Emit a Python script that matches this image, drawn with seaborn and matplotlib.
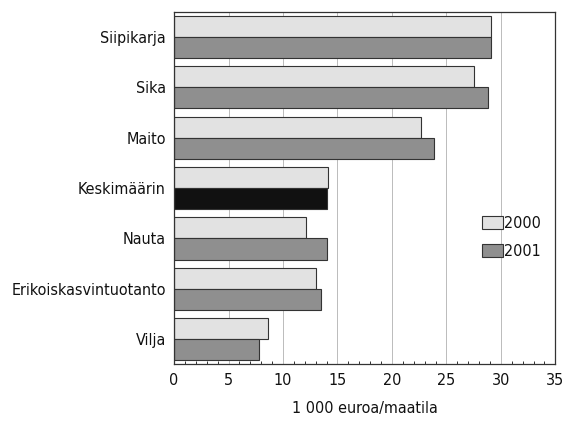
import matplotlib
matplotlib.use("Agg")
import matplotlib.pyplot as plt
import matplotlib.patches as mpatches
from matplotlib.ticker import MultipleLocator
import seaborn as sns
import pandas as pd

categories = ["Siipikarja", "Sika", "Maito", "Keskimäärin", "Nauta",
              "Erikoiskasvintuotanto", "Vilja"]
years = ["2000", "2001"]
values_2000 = [29.1, 27.5, 22.7, 14.1, 12.1, 13.0, 8.6]
values_2001 = [29.1, 28.8, 23.9, 14.0, 14.0, 13.5, 7.8]
xlabel = "1 000 euroa/maatila"

color_2000 = "#e2e2e2"
color_2001 = "#8f8f8f"
color_avg = "#111111"

df = pd.DataFrame({
    "kategoria": categories * 2,
    "vuosi": [years[0]] * len(categories) + [years[1]] * len(categories),
    "arvo": values_2000 + values_2001,
})

sns.set_style("white")
plt.rcParams["font.family"] = ["DejaVu Sans"]
plt.rcParams["font.stretch"] = "condensed"
plt.rcParams["text.color"] = "#111111"
plt.rcParams["xtick.color"] = "#111111"
plt.rcParams["ytick.color"] = "#111111"
plt.rcParams["axes.labelcolor"] = "#111111"

fig = plt.figure(figsize=(5.65, 4.23), dpi=100)
ax = fig.add_axes([0.308, 0.139, 0.675, 0.833])

sns.barplot(data=df, y="kategoria", x="arvo", hue="vuosi", order=categories,
            hue_order=years, palette=[color_2000, color_2001], orient="h",
            width=0.84, edgecolor="#333333", linewidth=0.8, legend=False, ax=ax)

# keskiarvon 2001-palkki mustana
avg_idx = categories.index("Keskimäärin")
ax.containers[1][avg_idx].set_facecolor(color_avg)

ax.set_xlim(0, 35)
ax.xaxis.set_major_locator(MultipleLocator(5))
ax.xaxis.set_minor_locator(MultipleLocator(1))
ax.tick_params(axis="x", which="major", direction="in", length=3, labelsize=11.5, pad=6)
ax.tick_params(axis="x", which="minor", direction="in", length=2, bottom=True)
ax.tick_params(axis="y", length=0, labelsize=11.5, pad=6)
ax.grid(axis="x", which="major", color="#bbbbbb", linewidth=0.7)
ax.set_axisbelow(True)
for s in ax.spines.values():
    s.set_visible(True)
    s.set_color("#333333")
    s.set_linewidth(0.9)

ax.set_ylabel("")
ax.set_xlabel(xlabel, fontsize=11.5, labelpad=10)

handles = [mpatches.Patch(facecolor=color_2000, edgecolor="#333333", linewidth=0.8),
           mpatches.Patch(facecolor=color_2001, edgecolor="#333333", linewidth=0.8)]
ax.legend(handles, years, loc="center left", bbox_to_anchor=(0.77, 0.36),
          frameon=False, fontsize=11.5, handlelength=1.3, handleheight=0.9,
          handletextpad=0.1, labelspacing=0.8)

fig.savefig("out.png", dpi=100)
